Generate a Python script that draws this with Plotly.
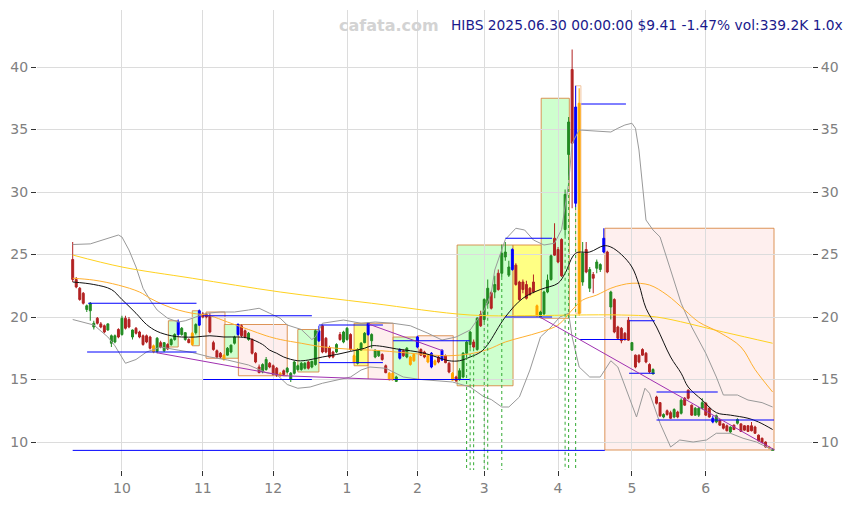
import plotly.graph_objects as go

# ---------------- data ----------------
month_ticks = [14, 37, 57, 78, 98, 117, 138, 159, 180]
month_labels = ["10", "11", "12", "1", "2", "3", "4", "5", "6"]
price_ticks = [10, 15, 20, 25, 30, 35, 40]

opens = [24.6, 23.0, 22.3, 21.9, 20.6, 20.5, 19.2, 19.9, 19.45, 19.3,
         18.96, 17.9, 18.0, 19.0, 18.6, 19.9, 19.8, 18.4, 19.1, 18.8,
         18.5, 18.5, 18.4, 17.2, 17.25, 17.95, 17.3, 17.8, 17.8, 18.2,
         18.6, 18.6, 18.2, 18.2, 17.8, 18.75, 19.35, 20.25, 20.2, 20.1,
         17.95, 17.3, 17.1, 16.6, 16.95, 17.2, 17.9, 18.6, 19.3, 18.9,
         18.2, 18.2, 17.1, 16.0, 15.6, 15.8, 16.3, 16.1, 15.9, 15.3,
         15.7, 15.6, 15.0, 15.5, 15.8, 15.8, 15.9, 16.4, 16.0, 16.2,
         18.1, 19.3, 18.3, 17.55, 17.2, 17.2, 18.6, 18.0, 18.2, 18.6,
         16.9, 16.3, 17.35, 17.95, 18.6, 18.1, 16.8, 16.9, 17.0, 16.1,
         15.0, 15.5, 14.85, 16.7, 17.3, 16.8, 16.8, 16.5, 17.6, 17.4,
         17.2, 16.9, 16.0, 16.5, 16.8, 16.55, 16.9, 16.3, 15.5, 15.2,
         15.0, 15.2, 17.1, 17.8, 18.0, 17.4, 20.2, 19.8, 21.1, 21.95,
         22.0, 23.5, 23.5, 24.8, 23.35, 23.8, 24.15, 22.8, 22.8, 22.6,
         22.3, 22.8, 20.9, 20.0, 20.25, 22.0, 23.0, 26.3, 25.4, 26.2,
         27.0, 33.0, 39.8, 29.1, 37.1, 22.8, 25.4, 22.3, 23.4, 23.9,
         23.8, 25.2, 25.2, 20.8, 21.4, 19.2, 19.1, 18.7, 19.75, 17.35,
         16.95, 16.95, 17.4, 17.1, 16.2, 15.45, 13.6, 13.15, 12.0, 12.5,
         12.35, 12.0, 12.4, 12.3, 13.5, 14.15, 12.95, 12.15, 12.15, 12.7,
         13.1, 12.7, 11.6, 11.6, 11.75, 11.45, 11.3, 10.8, 11.35, 11.5,
         11.45, 11.3, 11.3, 11.3, 11.2, 10.55, 10.3, 10.0, 9.62, 9.33]
highs = [26.0, 23.2, 22.4, 22.0, 21.0, 21.2, 19.7, 20.0, 19.6, 19.4,
         19.5, 18.6, 18.6, 19.1, 20.1, 20.1, 20.0, 19.0, 19.2, 18.9,
         18.6, 18.6, 18.5, 17.8, 18.4, 18.1, 18.0, 17.9, 18.3, 18.7,
         19.8, 19.2, 18.8, 18.3, 18.8, 19.5, 20.6, 20.4, 20.3, 20.3,
         18.1, 17.4, 17.2, 17.0, 17.6, 17.8, 18.5, 19.5, 19.4, 19.0,
         18.8, 18.3, 17.2, 16.2, 16.3, 16.8, 16.4, 16.2, 16.0, 15.6,
         15.8, 16.0, 15.6, 16.5, 16.2, 16.4, 16.4, 16.5, 16.5, 19.0,
         19.3, 19.4, 18.4, 17.7, 17.3, 17.9, 18.8, 18.9, 19.2, 18.7,
         17.0, 17.5, 18.0, 18.8, 19.6, 18.7, 17.4, 17.35, 17.1, 16.2,
         15.6, 15.6, 15.3, 17.5, 17.4, 17.6, 16.9, 17.1, 18.5, 17.5,
         17.3, 17.0, 17.2, 16.6, 16.9, 17.4, 17.0, 16.4, 15.6, 15.3,
         15.9, 17.2, 18.1, 18.9, 18.2, 20.0, 20.5, 21.5, 23.0, 22.1,
         23.3, 23.8, 25.8, 26.0, 24.5, 25.5, 24.3, 22.9, 23.0, 22.9,
         22.4, 23.4, 21.0, 20.5, 22.1, 23.4, 25.0, 27.5, 25.6, 26.3,
         30.2, 36.0, 41.4, 38.5, 38.3, 26.0, 26.0, 24.0, 23.6, 24.6,
         24.3, 27.1, 25.3, 22.1, 21.5, 19.3, 19.2, 18.8, 20.0, 18.0,
         17.0, 17.0, 17.5, 17.2, 16.3, 15.9, 13.7, 13.2, 12.3, 12.6,
         12.5, 12.7, 12.5, 13.5, 13.6, 14.2, 13.0, 12.8, 12.8, 13.5,
         13.2, 12.8, 12.1, 12.2, 11.8, 11.5, 11.4, 11.25, 11.4, 11.9,
         11.5, 11.35, 11.35, 11.6, 11.3, 10.6, 10.35, 10.05, 9.7, 9.5]
lows = [22.8, 22.3, 21.3, 21.0, 20.4, 19.7, 19.0, 19.4, 19.1, 18.7,
        18.9, 17.6, 17.9, 18.3, 18.5, 19.0, 19.1, 18.2, 18.6, 18.3,
        17.7, 17.9, 17.4, 17.1, 17.1, 17.5, 17.2, 17.35, 17.7, 18.1,
        18.5, 18.5, 18.1, 17.9, 17.7, 18.6, 19.3, 19.9, 19.9, 18.7,
        17.3, 16.7, 16.7, 16.5, 16.9, 17.1, 17.8, 18.5, 18.4, 18.3,
        18.1, 17.0, 16.3, 15.5, 15.5, 15.7, 15.9, 15.3, 15.2, 15.2,
        15.3, 15.5, 14.8, 15.4, 15.7, 15.7, 15.8, 15.8, 15.9, 16.1,
        18.0, 17.1, 17.1, 16.7, 16.7, 17.1, 18.1, 17.9, 18.1, 17.3,
        16.3, 16.2, 17.3, 17.9, 18.5, 17.5, 16.7, 16.8, 16.5, 15.5,
        14.9, 14.9, 14.8, 16.6, 16.8, 16.7, 16.1, 16.4, 17.5, 16.9,
        16.7, 16.3, 15.9, 16.1, 16.3, 16.5, 16.3, 15.5, 14.9, 14.8,
        14.9, 15.1, 16.8, 17.5, 17.5, 17.3, 19.2, 19.6, 20.9, 20.6,
        21.5, 22.1, 23.2, 24.5, 23.2, 23.7, 22.5, 21.3, 21.9, 21.4,
        21.7, 21.9, 20.0, 19.9, 20.1, 21.9, 22.9, 24.9, 24.3, 23.2,
        26.5, 31.2, 28.7, 28.8, 20.1, 22.5, 23.5, 22.0, 21.9, 23.5,
        23.6, 25.1, 23.5, 19.8, 18.7, 18.2, 17.9, 18.1, 18.1, 17.3,
        15.9, 16.3, 16.9, 16.3, 15.5, 15.4, 13.0, 12.0, 11.9, 12.1,
        11.85, 11.9, 11.9, 12.2, 12.9, 13.4, 12.1, 12.1, 12.0, 12.6,
        12.1, 11.95, 11.5, 11.5, 11.3, 11.0, 10.85, 10.7, 10.95, 11.4,
        10.8, 10.9, 10.8, 10.85, 10.65, 10.05, 9.9, 9.55, 9.4, 9.28]
closes = [23.0, 22.4, 21.4, 21.1, 20.9, 21.1, 19.5, 19.5, 19.2, 18.8,
          19.45, 18.5, 18.5, 18.4, 19.9, 19.1, 19.2, 18.96, 18.7, 18.4,
          17.8, 18.0, 17.5, 17.7, 18.3, 17.6, 17.95, 17.45, 18.2, 18.6,
          19.6, 19.1, 18.75, 17.95, 18.7, 19.4, 20.5, 20.0, 20.0, 18.8,
          17.4, 16.8, 16.8, 16.95, 17.5, 17.75, 18.4, 19.4, 18.5, 18.4,
          18.7, 17.1, 16.4, 15.55, 16.2, 16.6, 16.0, 15.4, 15.35, 15.5,
          15.4, 15.9, 15.5, 16.4, 16.1, 16.3, 16.3, 15.9, 16.45, 18.9,
          18.9, 17.2, 17.2, 16.8, 16.8, 17.8, 18.2, 18.8, 19.1, 17.4,
          16.4, 17.4, 17.9, 18.7, 19.5, 18.6, 17.35, 17.3, 16.6, 15.55,
          15.5, 15.0, 15.2, 17.4, 16.9, 17.5, 16.2, 17.0, 18.4, 16.95,
          16.8, 16.4, 17.1, 16.2, 16.4, 17.35, 16.35, 15.6, 14.95, 14.9,
          15.7, 17.1, 18.0, 18.8, 17.6, 19.9, 19.3, 21.4, 22.3, 20.7,
          22.6, 22.2, 25.1, 25.2, 24.0, 25.4, 22.6, 21.4, 22.2, 21.5,
          21.8, 22.0, 20.1, 20.4, 22.0, 22.95, 24.9, 24.95, 24.4, 23.3,
          29.8, 35.6, 33.9, 36.8, 20.3, 25.1, 23.6, 23.8, 23.1, 24.4,
          24.2, 26.3, 23.6, 22.0, 18.8, 18.3, 18.1, 18.2, 18.15, 17.95,
          16.0, 16.4, 16.95, 16.4, 15.6, 15.8, 13.1, 12.1, 12.2, 12.2,
          11.9, 12.6, 12.0, 13.35, 12.95, 13.5, 12.15, 12.7, 12.7, 13.15,
          12.15, 12.0, 11.9, 12.1, 11.35, 11.1, 10.9, 11.2, 11.0, 11.8,
          10.85, 10.95, 10.85, 10.9, 10.7, 10.1, 9.95, 9.6, 9.55, 9.41]

blue_idx = [30, 36, 47, 70, 84, 93, 98, 102, 105, 125, 143, 151, 182]
orange_idx = [23, 34, 43, 59, 80, 90, 91, 96, 97, 101, 103, 108, 132, 144, 198]

# indicator lines (trading-day index, price)
sma20_x = [0, 6, 11, 14, 18, 21, 24, 28, 31, 35, 39, 43, 47, 50, 54, 56, 58, 60,
           64, 67, 71, 75, 79, 83, 85, 88, 92, 96, 100, 104, 107, 110, 113, 116,
           118, 123, 128, 133, 138, 140, 143, 147, 151, 153, 156, 159, 161, 163,
           166, 170, 173, 175, 179, 183, 187, 192, 195, 199]
sma20_y = [22.8, 22.6, 22.2, 21.4, 20.3, 19.4, 18.85, 18.5, 18.4, 18.4, 18.5, 18.4,
           18.4, 18.3, 17.8, 17.35, 17.1, 16.8, 16.5, 16.56, 16.8, 17.0, 17.25, 17.5,
           17.7, 17.65, 17.45, 17.3, 17.1, 16.75, 16.5, 16.5, 16.8, 17.2, 17.8, 20.0,
           21.5, 22.2, 22.7, 23.5, 25.1, 25.2, 25.7, 25.6, 25.0, 24.0, 22.6, 20.7,
           19.2, 16.8, 15.5, 14.4, 13.35, 12.35, 12.15, 11.9, 11.6, 11.0]
sma50_x = [0, 6, 13, 19, 22, 26, 30, 34, 39, 44, 50, 55, 59, 65, 70, 75, 80, 85,
           90, 96, 102, 107, 113, 118, 123, 128, 133, 138, 142, 145, 149, 153, 156,
           159, 164, 169, 174, 178, 184, 190, 194, 199]
sma50_y = [23.1, 22.95, 22.55, 22.0, 21.5, 20.96, 20.56, 20.3, 20.1, 19.6, 19.0,
           18.5, 18.2, 17.9, 17.65, 17.5, 17.4, 17.35, 17.25, 17.1, 16.96, 16.9,
           17.05, 17.4, 18.0, 18.4, 18.8, 19.36, 20.56, 21.36, 21.76, 22.3, 22.56,
           22.7, 22.56, 21.76, 20.56, 19.6, 18.75, 17.6, 15.8, 14.0]
sma200_x = [0, 14, 34, 59, 85, 113, 133, 143, 156, 166, 185, 199]
sma200_y = [24.96, 24.0, 23.1, 22.0, 21.1, 20.16, 20.12, 20.16, 20.16, 20.0, 18.8, 17.9]
bb_up_x = [0, 5, 13, 14, 16, 18, 20, 22, 24, 27, 30, 32, 35, 38, 42, 46, 50, 53, 56,
           59, 61, 65, 68, 69, 71, 74, 77, 82, 86, 91, 96, 101, 105, 109, 113, 117,
           119, 120, 123, 126, 128.5, 131, 134, 137, 139, 141, 142, 144, 149, 153,
           155, 157, 159, 160, 161, 163, 165, 167, 170, 173, 176, 180, 183, 185, 189,
           192, 196, 199]
bb_up_y = [25.8, 25.85, 26.56, 26.4, 25.36, 24.0, 22.3, 21.36, 20.56, 19.9, 19.6,
           19.7, 20.0, 20.3, 20.4, 20.4, 20.56, 20.7, 20.3, 19.9, 19.36, 19.0, 18.2,
           18.4, 19.5, 19.6, 19.76, 19.5, 19.6, 19.5, 19.3, 18.7, 18.16, 18.4, 18.96,
           20.56, 21.9, 23.76, 26.2, 27.1, 26.96, 26.16, 25.76, 25.9, 27.0, 30.7, 33.9,
           34.96, 34.9, 34.8, 35.1, 35.36, 35.5, 35.1, 33.36, 27.76, 26.96, 26.4, 23.76,
           21.1, 19.2, 17.1, 15.2, 13.76, 13.76, 13.36, 13.15, 12.8]
bb_lo_x = [0, 6, 10, 12, 15, 18, 21, 25, 30, 34, 39, 44, 50, 55, 58, 61, 64, 67.5,
           71, 75, 79, 82, 84.5, 89, 94, 99, 103.5, 108, 113, 117, 119, 122, 124,
           127, 130, 133, 136, 138.5, 141, 142, 144, 147, 150, 153, 155, 157.5,
           160.3, 162.7, 164, 167, 170, 172.6, 176.4, 180.2, 183, 187, 190.6, 194.4,
           199]
bb_lo_y = [19.8, 19.36, 18.4, 17.7, 16.3, 16.6, 17.2, 17.6, 17.35, 17.16, 16.8,
           16.56, 16.16, 15.55, 15.4, 14.6, 14.3, 14.4, 14.7, 14.96, 15.2, 15.76,
           16.0, 15.9, 15.2, 15.0, 14.9, 14.8, 14.4, 13.6, 13.4, 12.8, 12.8, 13.6,
           15.76, 18.4, 19.2, 20.0, 20.3, 18.4, 16.0, 15.2, 15.2, 16.5, 16.0, 14.16,
           12.0, 14.3, 13.9, 11.5, 9.6, 10.16, 10.0, 10.16, 10.7, 10.7, 10.3, 10.0,
           9.36]

# consolidation boxes: first/last trading-day index, price range, kind
box_start = [27.2, 34.0, 37.9, 43.1, 47.1, 64.0, 80.0, 84.0, 91.1, 98.2, 109.3,
             125.2, 133.2, 143.0, 151.3]
box_end = [30.0, 36.0, 43.3, 47.1, 61.0, 70.0, 84.0, 91.1, 98.2, 108.2, 125.2,
           133.3, 141.2, 144.5, 199.4]
box_low = [17.6, 17.7, 16.7, 16.7, 15.3, 15.6, 16.1, 15.0, 15.0, 15.0, 14.5,
           19.95, 19.9, 20.3, 9.36]
box_high = [19.7, 20.5, 20.4, 19.4, 19.4, 19.0, 19.5, 19.5, 18.4, 18.5, 25.76,
            25.76, 37.5, 38.5, 27.1]
box_kind = ["up", "up", "down", "up", "down", "up", "flat", "down", "up", "down",
            "up", "flat", "up", "blank", "down"]

# support / resistance levels
level_start = [4.4, 4.1, 37.1, 37.1, 0.0, 70.0, 70.0, 91.1, 91.1, 123.0, 123.0,
               144.2, 144.6, 158.2, 158.2, 166.0, 166.0]
level_end = [35.2, 35.2, 68.0, 68.0, 151.3, 88.2, 88.2, 112.9, 112.9, 136.3, 136.3,
             157.5, 157.3, 165.5, 165.5, 183.4, 199.4]
level_price = [21.1, 17.2, 20.1, 15.0, 9.33, 19.36, 16.35, 18.1, 15.0, 26.3, 20.0,
               18.2, 37.04, 19.7, 15.5, 14.0, 11.76]

# trend lines
trend_x0 = [23.9, 60.0, 84.0, 132.8]
trend_y0 = [17.14, 15.3, 19.45, 20.0]
trend_x1 = [60.0, 91.0, 105.2, 199.6]
trend_y1 = [15.3, 14.98, 17.3, 9.36]

# high-volume signal days
signal_idx = [112, 113, 114, 117, 118, 122, 140, 141, 143]

title_text = "HIBS 2025.06.30 00:00:00 $9.41 -1.47% vol:339.2K 1.0x"
watermark = "cafata.com"

# ---------------- styling ----------------
GREEN = "#228B22"
RED = "#B22222"
BLUE = "#0000FF"
ORANGE = "#FFA500"
FONT = "DejaVu Sans"
X_RANGE = [-10.15, 210.2]
Y_RANGE = [7.76, 44.56]

fig = go.Figure()

# boxes
box_fill = {"up": "rgba(190,255,190,0.75)", "down": "rgba(253,228,226,0.6)",
            "flat": "rgba(255,255,110,0.85)", "blank": "rgba(255,255,240,0.4)"}
for s, e, lo, hi, k in zip(box_start, box_end, box_low, box_high, box_kind):
    fig.add_shape(type="rect", xref="x", yref="y", x0=s, x1=e, y0=lo, y1=hi,
                  fillcolor=box_fill[k], layer="below",
                  line=dict(color="rgba(215,130,60,0.85)" if k != "blank" else "rgba(240,190,150,0.9)", width=1))

# bands and moving averages
fig.add_trace(go.Scatter(x=bb_up_x, y=bb_up_y, mode="lines", line=dict(color="#999999", width=1),
                         hoverinfo="skip"))
fig.add_trace(go.Scatter(x=bb_lo_x, y=bb_lo_y, mode="lines", line=dict(color="#999999", width=1),
                         hoverinfo="skip"))
fig.add_trace(go.Scatter(x=sma200_x, y=sma200_y, mode="lines", line=dict(color="#FFD21F", width=1, shape="spline"),
                         hoverinfo="skip"))
fig.add_trace(go.Scatter(x=sma50_x, y=sma50_y, mode="lines", line=dict(color="#FFB030", width=1, shape="spline"),
                         hoverinfo="skip"))
fig.add_trace(go.Scatter(x=sma20_x, y=sma20_y, mode="lines", line=dict(color="#111111", width=1, shape="spline"),
                         hoverinfo="skip"))

# signal dotted lines
sx, sy = [], []
for i in signal_idx:
    sx += [i, i, None]
    sy += [lows[i], Y_RANGE[0], None]
fig.add_trace(go.Scatter(x=sx, y=sy, mode="lines", line=dict(color="#33AA33", width=1, dash="dot"),
                         hoverinfo="skip"))


def candle_group(idx, inc_col, dec_col):
    return go.Candlestick(
        x=idx,
        open=[opens[i] for i in idx], high=[highs[i] for i in idx],
        low=[lows[i] for i in idx], close=[closes[i] for i in idx],
        increasing=dict(line=dict(color=inc_col, width=1), fillcolor=inc_col),
        decreasing=dict(line=dict(color=dec_col, width=1), fillcolor=dec_col),
        whiskerwidth=0, hoverinfo="skip", showlegend=False)


special = set(blue_idx) | set(orange_idx)
normal_idx = [i for i in range(len(closes)) if i not in special]
fig.add_trace(candle_group(normal_idx, GREEN, RED))
fig.add_trace(candle_group(blue_idx, BLUE, BLUE))
fig.add_trace(candle_group(orange_idx, ORANGE, ORANGE))

# levels
lx, ly = [], []
for s, e, p in zip(level_start, level_end, level_price):
    lx += [s, e, None]
    ly += [p, p, None]
fig.add_trace(go.Scatter(x=lx, y=ly, mode="lines", line=dict(color=BLUE, width=1), hoverinfo="skip"))

# trend lines
tx, ty = [], []
for a, b, c, d in zip(trend_x0, trend_y0, trend_x1, trend_y1):
    tx += [a, c, None]
    ty += [b, d, None]
fig.add_trace(go.Scatter(x=tx, y=ty, mode="lines", line=dict(color="#A030B0", width=1), hoverinfo="skip"))

# dummy trace for right axis
fig.add_trace(go.Scatter(x=[0], y=[20], yaxis="y2", mode="markers", marker=dict(opacity=0),
                         hoverinfo="skip"))

tickfont = dict(family=FONT, size=14, color="#808080")
common_y = dict(range=Y_RANGE, tickvals=price_ticks, ticks="outside", ticklen=5,
                tickcolor="#333333", tickfont=tickfont, zeroline=False, showline=False)

# the page body adds an 8px offset, so margins are reduced accordingly
fig.update_layout(
    width=856, height=505,
    margin=dict(l=29, r=52, t=2, b=43),
    paper_bgcolor="white", plot_bgcolor="white",
    showlegend=False,
    boxgap=0.45, boxgroupgap=0,
    font=dict(family=FONT),
    xaxis=dict(range=X_RANGE, tickvals=month_ticks, ticktext=month_labels,
               showgrid=True, gridcolor="#DCDCDC", gridwidth=1, ticks="outside",
               ticklen=5, tickcolor="#333333", tickfont=tickfont, zeroline=False,
               showline=False, rangeslider=dict(visible=False)),
    yaxis=dict(showgrid=True, gridcolor="#DCDCDC", gridwidth=1, **common_y),
    yaxis2=dict(overlaying="y", side="right", showgrid=False, **common_y),
    annotations=[
        dict(text="<b>" + watermark + "</b>", xref="paper", yref="paper", x=0.454, y=0.967,
             xanchor="center", yanchor="middle", showarrow=False,
             font=dict(family=FONT, size=16, color="#D3D3D3")),
        dict(text=title_text, xref="paper", yref="paper", x=1.0426, y=0.967,
             xanchor="right", yanchor="middle", showarrow=False,
             font=dict(family=FONT, size=13.8, color="#1A1A8C")),
    ],
)

fig.write_html("out.html")
